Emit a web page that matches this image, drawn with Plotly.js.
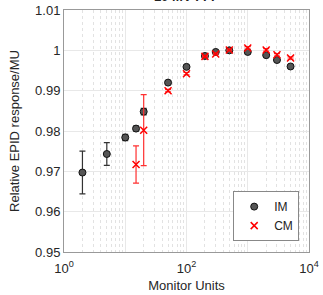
<!DOCTYPE html>
<html><head><meta charset="utf-8">
<script src="https://cdn.plot.ly/plotly-3.0.1.min.js"></script>
<style>html,body{margin:0;padding:0;background:#fff}#c{width:323px;height:295px}</style>
</head><body><div id="c"></div>
<script>
const imMU = [2, 5, 10, 15, 20, 50, 100, 200, 300, 500, 1000, 2000, 3000, 5000];
const imVal = [0.9697, 0.9743, 0.9784, 0.9806, 0.9848, 0.9920, 0.9959, 0.9986, 0.9996, 1.0000, 0.9996, 0.9988, 0.9976, 0.9960];
const imErr = [0.0053, 0.0028, 0.0008, 0.0006, 0.0008, 0.0004, 0.0003, 0.0002, 0.0002, 0.0002, 0.0002, 0.0002, 0.0002, 0.0002];
const cmMU = [15, 20, 50, 100, 200, 300, 500, 1000, 2000, 3000, 5000];
const cmVal = [0.9717, 0.9802, 0.9900, 0.9942, 0.9985, 0.9991, 1.0001, 1.0006, 1.0001, 0.9989, 0.9981];
const cmErr = [0.0046, 0.0088, 0.0003, 0.0003, 0.0002, 0.0002, 0.0002, 0.0003, 0.0003, 0.0003, 0.0003];
const xTickVals = [1, 10, 100, 1000, 10000];
const xTickText = ['10<sup>0</sup>', '', '10<sup>2</sup>', '', '10<sup>4</sup>'];
const yTickVals = [0.95, 0.96, 0.97, 0.98, 0.99, 1, 1.01];
const yTickText = ['0.95', '0.96', '0.97', '0.98', '0.99', '1', '1.01'];

const fam = 'Liberation Sans, Arial, sans-serif';
const traces = [
  {x: imMU, y: imVal, name: 'IM', mode: 'markers', type: 'scatter',
   error_y: {type: 'data', array: imErr, color: '#333', thickness: 1.2, width: 3},
   marker: {symbol: 'circle', size: 7, color: '#555', line: {color: '#111', width: 1}}},
  {x: cmMU, y: cmVal, name: 'CM', mode: 'markers', type: 'scatter',
   error_y: {type: 'data', array: cmErr, color: '#ff3030', thickness: 1.2, width: 3},
   marker: {symbol: 'x-thin', size: 7, color: '#ff0000', line: {color: '#ff0000', width: 1.5}}}
];
const layout = {
  width: 323, height: 295,
  margin: {l: 64, r: 14, t: 10, b: 43},
  paper_bgcolor: '#fff', plot_bgcolor: '#fff',
  font: {family: fam, color: '#262626', size: 13}, showlegend: true,
  legend: {x: 0.96, y: 0.045, xanchor: 'right', yanchor: 'bottom',
    bordercolor: '#888', borderwidth: 1, bgcolor: '#fff',
    font: {family: fam, size: 12, color: '#222'},
    itemwidth: 30, tracegroupgap: 0},
  xaxis: {type: 'log', range: [0, 4], tickvals: xTickVals, ticktext: xTickText,
    showgrid: true, gridcolor: '#e8e8e8', gridwidth: 1,
    minor: {showgrid: true, gridcolor: '#e2e2e2', griddash: 'dot', gridwidth: 1, dtick: 'D1', ticks: ''},
    showline: true, linecolor: '#999', mirror: true, ticks: '', zeroline: false,
    ticklabelstandoff: 4,
    tickfont: {family: fam, size: 13, color: '#262626'},
    title: {text: 'Monitor Units', font: {family: fam, size: 13, color: '#262626'}, standoff: 6}},
  yaxis: {range: [0.95, 1.01], tickvals: yTickVals, ticktext: yTickText,
    showgrid: true, gridcolor: '#e8e8e8', gridwidth: 1,
    showline: true, linecolor: '#999', mirror: true, ticks: '', zeroline: false,
    tickfont: {family: fam, size: 13, color: '#262626'},
    title: {text: 'Relative EPID response/MU', font: {family: fam, size: 13, color: '#262626'}, standoff: 12}},
  annotations: [{text: '<b>10 MV FFF</b>', x: 0.5, y: 1, xref: 'paper', yref: 'paper',
    xanchor: 'center', yanchor: 'bottom', yshift: 4, showarrow: false,
    font: {family: fam, size: 13, color: '#222'}}]
};
Plotly.newPlot('c', traces, layout, {displayModeBar: false, staticPlot: true});
</script></body></html>
